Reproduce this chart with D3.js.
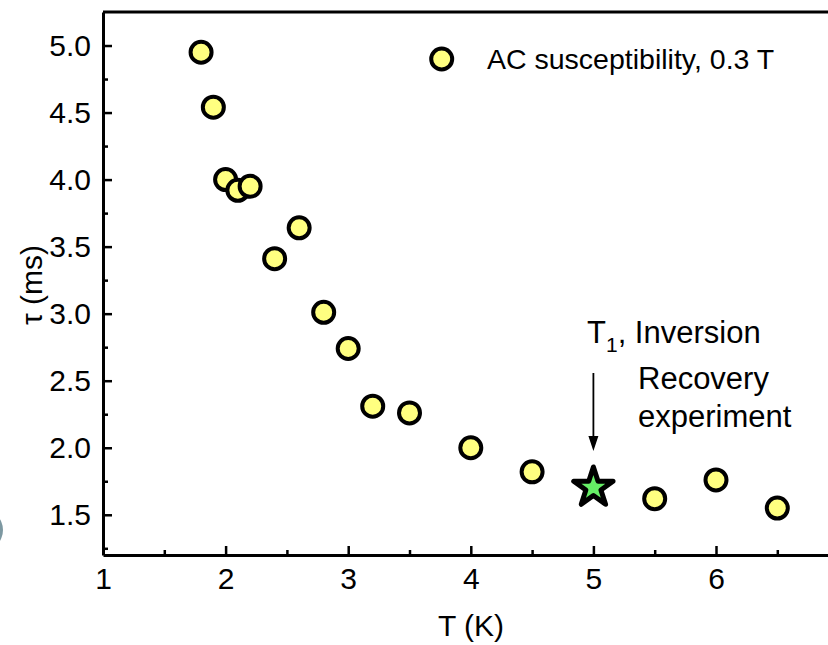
<!DOCTYPE html>
<html>
<head>
<meta charset="utf-8">
<script src="https://cdn.jsdelivr.net/npm/d3@7"></script>
<style>
  body { margin: 0; background: #fff; }
  svg { display: block; font-family: "Liberation Sans", Arial, sans-serif; }
</style>
</head>
<body>
<script>
// temperature (K) and relaxation time tau (ms), AC susceptibility at 0.3 T
const temps = [1.8, 1.9, 2.0, 2.1, 2.2, 2.4, 2.6, 2.8, 3.0, 3.2, 3.5, 4.0, 4.5, 5.5, 6.0, 6.5];
const taus  = [4.95, 4.54, 4.00, 3.92, 3.95, 3.41, 3.64, 3.01, 2.74, 2.31, 2.26, 2.00, 1.82, 1.62, 1.76, 1.55];

// T1 inversion recovery point
const starT = [5.0];
const starTau = [1.71];

const xTicks = [1, 2, 3, 4, 5, 6];
const xMinor = [1.5, 2.5, 3.5, 4.5, 5.5, 6.5];
const yTicks = [1.5, 2.0, 2.5, 3.0, 3.5, 4.0, 4.5, 5.0];
const yMinor = [1.25, 1.75, 2.25, 2.75, 3.25, 3.75, 4.25, 4.75];

const w = 828;
const h = 645;

const svg = d3.select("body")
  .append("svg")
  .attr("width", w)
  .attr("height", h);

const x = d3.scaleLinear().domain([1, 7]).range([103, 838.6]);
const y = d3.scaleLinear().domain([1.2, 5.25]).range([555, 12]);

// stray shape at the left edge
svg.append("circle")
  .attr("cx", -18).attr("cy", 530).attr("r", 21)
  .attr("fill", "#7d98a1");

// frame line on top
svg.append("line")
  .attr("x1", x(1)).attr("x2", w + 5)
  .attr("y1", y(5.25)).attr("y2", y(5.25))
  .attr("stroke", "#000").attr("stroke-width", 3);

svg.append("g")
  .attr("transform", `translate(0,${y(1.2)})`)
  .call(d3.axisBottom(x).tickValues(xTicks).tickFormat(d3.format("d"))
    .tickSize(-9).tickSizeOuter(0).tickPadding(13));

svg.append("g")
  .attr("transform", `translate(0,${y(1.2)})`)
  .call(d3.axisBottom(x).tickValues(xMinor).tickFormat("").tickSize(-5).tickSizeOuter(0))
  .call(g => g.select(".domain").remove());

svg.append("g")
  .attr("transform", `translate(${x(1)},0)`)
  .call(d3.axisLeft(y).tickValues(yTicks).tickFormat(d3.format(".1f"))
    .tickSize(-9).tickSizeOuter(0).tickPadding(12));

svg.append("g")
  .attr("transform", `translate(${x(1)},0)`)
  .call(d3.axisLeft(y).tickValues(yMinor).tickFormat("").tickSize(-5).tickSizeOuter(0))
  .call(g => g.select(".domain").remove());

svg.selectAll(".domain").attr("stroke", "#000").attr("stroke-width", 3);
svg.selectAll(".tick line").attr("stroke", "#000").attr("stroke-width", 2.5);
svg.selectAll(".tick text")
  .attr("fill", "#000")
  .style("font-size", "30px")
  .style("font-family", "'Liberation Sans', Arial, sans-serif");

// axis titles
svg.append("text")
  .attr("x", 471).attr("y", 636)
  .attr("text-anchor", "middle")
  .style("font-size", "30px")
  .attr("fill", "#000")
  .text("T (K)");

svg.append("text")
  .attr("transform", "translate(42,285) rotate(-90)")
  .attr("text-anchor", "middle")
  .style("font-size", "30px")
  .attr("fill", "#000")
  .text("τ (ms)");

// data points
svg.selectAll(".dot")
  .data(temps.map((t, i) => [t, taus[i]]))
  .enter()
  .append("circle")
  .attr("class", "dot")
  .attr("cx", d => x(d[0]))
  .attr("cy", d => y(d[1]))
  .attr("r", 10.5)
  .attr("fill", "#ffff80")
  .attr("stroke", "#000")
  .attr("stroke-width", 4);

// star
svg.selectAll(".star")
  .data(starT.map((t, i) => [t, starTau[i]]))
  .enter()
  .append("path")
  .attr("class", "star")
  .attr("transform", d => `translate(${x(d[0])},${y(d[1]) + 1})`)
  .attr("d", d3.symbol(d3.symbolStar, 480))
  .attr("fill", "#66ee66")
  .attr("stroke", "#000")
  .attr("stroke-width", 5)
  .attr("stroke-linejoin", "round");

// legend
svg.append("circle")
  .attr("cx", 441.7).attr("cy", 59)
  .attr("r", 10.5)
  .attr("fill", "#ffff80")
  .attr("stroke", "#000")
  .attr("stroke-width", 4);

svg.append("text")
  .attr("x", 487).attr("y", 69)
  .style("font-size", "28.5px")
  .attr("fill", "#000")
  .text("AC susceptibility, 0.3 T");

// annotation
const ann = svg.append("text")
  .attr("x", 587).attr("y", 343)
  .style("font-size", "31px")
  .attr("fill", "#000");
ann.append("tspan").text("T");
ann.append("tspan").attr("dy", 9).style("font-size", "21px").text("1");
ann.append("tspan").attr("dy", -9).text(", Inversion");

svg.append("text")
  .attr("x", 638).attr("y", 389)
  .style("font-size", "31px")
  .attr("fill", "#000")
  .text("Recovery");

svg.append("text")
  .attr("x", 638).attr("y", 427)
  .style("font-size", "31px")
  .attr("fill", "#000")
  .text("experiment");

// arrow
svg.append("line")
  .attr("x1", x(5)).attr("x2", x(5))
  .attr("y1", 373).attr("y2", 440)
  .attr("stroke", "#000").attr("stroke-width", 1.8);

svg.append("path")
  .attr("d", d3.line()([[x(5) - 5, 436], [x(5) + 5, 436], [x(5), 451]]))
  .attr("fill", "#000");
</script>
</body>
</html>
